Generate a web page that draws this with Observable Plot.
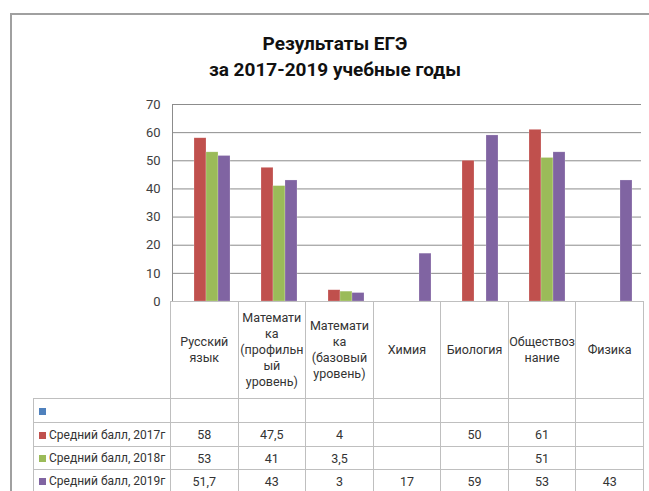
<!DOCTYPE html>
<html>
<head>
<meta charset="utf-8">
<script src="https://cdn.jsdelivr.net/npm/d3@7"></script>
<script src="https://cdn.jsdelivr.net/npm/@observablehq/plot@0.6"></script>
<style>
  html, body { margin: 0; padding: 0; background: #fff; }
  #wrap { position: relative; width: 649px; height: 491px; overflow: hidden; font-family: Roboto, "Noto Sans", sans-serif; color: #333; }
  #frame { position: absolute; left: 10px; top: 13px; width: 700px; height: 600px; border-top: 2px solid #a0a0a0; border-left: 2px solid #a0a0a0; }
  #title { position: absolute; left: 0; top: 31px; width: 670px; text-align: center; font-weight: bold; font-size: 19px; line-height: 26px; color: #111; }
  #chart { position: absolute; left: 0; top: 0; }
  #table { position: absolute; left: 33px; top: 301px; border-collapse: collapse; table-layout: fixed; font-size: 12.5px; color: #333; }
  #table td { border: 1px solid #bfbfbf; text-align: center; vertical-align: middle; padding: 0; white-space: nowrap; overflow: hidden; }
  #table td.corner { border-top: none; border-left: none; }
  #table td.name { text-align: left; padding-left: 5px; font-size: 12px; }
  #table .sw { display: inline-block; width: 7px; height: 7px; margin-right: 3px; vertical-align: 0px; }
  #table tr.head td { line-height: 16px; }
</style>
</head>
<body>
<div id="wrap">
  <div id="frame"></div>
  <div id="title">Результаты ЕГЭ<br>за 2017-2019 учебные годы</div>
  <div id="chart"></div>
</div>
<script>
// ---- data ----
const categories = ["Русский язык", "Математика (профильный уровень)", "Математика (базовый уровень)", "Химия", "Биология", "Обществознание", "Физика"];
const headerLabels = [
  ["Русский", "язык"],
  ["Математи", "ка", "(профильн", "ый", "уровень)"],
  ["Математи", "ка", "(базовый", "уровень)"],
  ["Химия"],
  ["Биология"],
  ["Обществоз", "нание"],
  ["Физика"]
];
const seriesKeys = ["blank", "2017", "2018", "2019"];
const seriesNames = ["", "Средний балл, 2017г", "Средний балл, 2018г", "Средний балл, 2019г"];
const seriesColors = ["#4F81BD", "#C0504D", "#9BBB59", "#8064A2"];
const scoreBlank = [null, null, null, null, null, null, null];
const score2017 = [58, 47.5, 4, null, 50, 61, null];
const score2018 = [53, 41, 3.5, null, null, 51, null];
const score2019 = [51.7, 43, 3, 17, 59, 53, 43];
const yTicks = [0, 10, 20, 30, 40, 50, 60, 70];

const seriesValues = [scoreBlank, score2017, score2018, score2019];
const rows = [];
seriesValues.forEach((vals, s) => vals.forEach((v, i) => {
  if (v != null) rows.push({cat: categories[i], series: seriesKeys[s], value: v});
}));

const chart = Plot.plot({
  width: 649,
  height: 491,
  marginTop: 104,
  marginBottom: 190,
  marginLeft: 170,
  marginRight: 6,
  style: {fontFamily: "Roboto, 'Noto Sans', sans-serif", fontSize: "13px", color: "#404040", background: "transparent"},
  fx: {domain: categories, padding: 0, axis: null},
  x: {domain: seriesKeys, paddingInner: 0, paddingOuter: 0.73, axis: null},
  y: {domain: [0, 70], axis: null},
  color: {domain: seriesKeys, range: seriesColors},
  marks: [
    Plot.gridY(yTicks, {stroke: "#8c8c8c", strokeOpacity: 1}),
    Plot.frame({anchor: "left", facetAnchor: "left", stroke: "#8c8c8c"}),
    Plot.barY(rows, {fx: "cat", x: "series", y: "value", fill: "series", stroke: "#fff", strokeOpacity: 0.35, strokeWidth: 0.6}),
    Plot.axisY(yTicks, {tickSize: 0, tickPadding: 12, label: null, fill: "#404040", fontSize: 13})
  ]
});
document.getElementById("chart").appendChild(chart);

// ---- data table under the axis ----
const colW = 473 / categories.length;
const table = document.createElement("table");
table.id = "table";
const colgroup = document.createElement("colgroup");
[137, ...categories.map(() => colW)].forEach(w => {
  const c = document.createElement("col");
  c.style.width = w + "px";
  colgroup.appendChild(c);
});
table.appendChild(colgroup);
table.style.width = (137 + 473) + "px";

const head = document.createElement("tr");
head.className = "head";
head.style.height = "97px";
const corner = document.createElement("td");
corner.className = "corner";
head.appendChild(corner);
headerLabels.forEach(lines => {
  const td = document.createElement("td");
  td.innerHTML = lines.join("<br>");
  head.appendChild(td);
});
table.appendChild(head);

const rowHeights = [24, 24, 23, 23];
const fmt = v => v == null ? "" : String(v).replace(".", ",");
seriesKeys.forEach((k, s) => {
  const tr = document.createElement("tr");
  tr.style.height = rowHeights[s] + "px";
  const name = document.createElement("td");
  name.className = "name";
  const sw = document.createElement("span");
  sw.className = "sw";
  sw.style.background = seriesColors[s];
  name.appendChild(sw);
  name.appendChild(document.createTextNode(seriesNames[s]));
  tr.appendChild(name);
  seriesValues[s].forEach(v => {
    const td = document.createElement("td");
    td.textContent = fmt(v);
    tr.appendChild(td);
  });
  table.appendChild(tr);
});
document.getElementById("wrap").appendChild(table);
</script>
</body>
</html>
